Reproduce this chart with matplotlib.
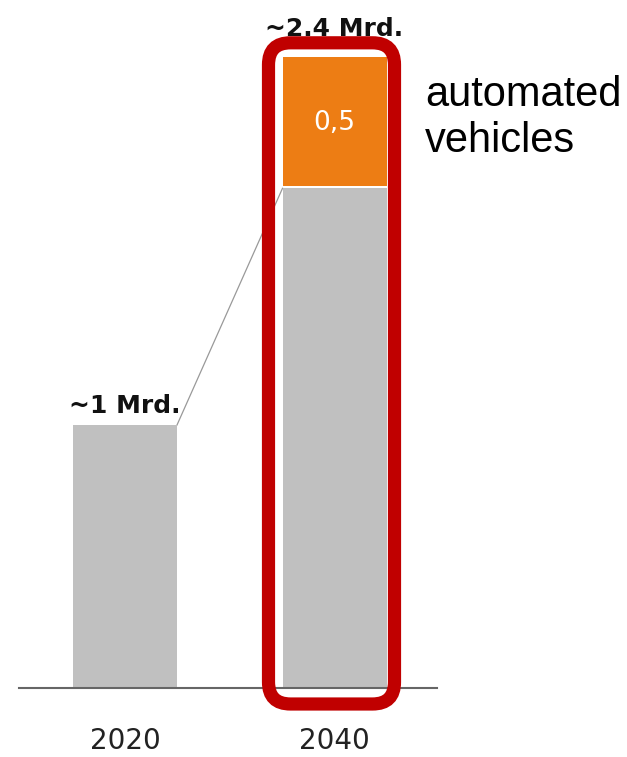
import matplotlib.pyplot as plt
import numpy as np
from matplotlib.patches import FancyBboxPatch

# Daten (Mrd. Fahrzeuge)
jahre = ['2020', '2040']
konventionell = [1.0, 1.9]
automatisiert = [0.0, 0.5]
summen_labels = ['~1 Mrd.', '~2.4 Mrd.']
orange_label = '0,5'

grau = '#c0c0c0'
orange = '#ed7d14'
rot = '#c00000'

fig = plt.figure(figsize=(6.27, 7.57), dpi=100)
ax = fig.add_axes([0, 0, 1, 1])

# Skalen: 209.5 px pro Kategorie, 263 px pro Mrd.
px_x = 209.5
px_y = 263.0
ax.set_xlim(-125 / px_x, (627 - 125) / px_x)
ax.set_ylim(-(757 - 688) / px_y, 688 / px_y)
ax.axis('off')

x = np.arange(len(jahre))
w = 104 / px_x
gap = 2 / px_y

ax.bar(x, konventionell, width=w, color=grau, zorder=2)
ax.bar(x[1], automatisiert[1] - gap, bottom=konventionell[1] + gap, width=w,
       color=orange, zorder=2)

# Summen über den Balken
gesamt = [k + a for k, a in zip(konventionell, automatisiert)]
ax.text(x[0], gesamt[0] + 12 / px_y, summen_labels[0], ha='center', va='baseline',
        fontsize=18, fontweight='bold', color='#111111')
ax.text(x[1], gesamt[1] + 21 / px_y, summen_labels[1], ha='center', va='baseline',
        fontsize=18, fontweight='bold', color='#111111')

# Wert im orangen Segment
ax.text(x[1], konventionell[1] + automatisiert[1] / 2, orange_label, ha='center',
        va='center', fontsize=19, color='white')

# Verbindungslinie
ax.plot([x[0] + w / 2, x[1] - w / 2], [konventionell[0], konventionell[1]],
        color='#999999', lw=0.9, zorder=1)

# Grundlinie
ax.plot([(19 - 125) / px_x, (437 - 125) / px_x], [0, 0], color='#666666', lw=1.5,
        zorder=3)

# Jahreszahlen
for xi, j in zip(x, jahre):
    ax.text(xi, -53 / px_y, j, ha='center', va='center', fontsize=20,
            color='#222222')

# roter Rahmen um 2040
r = 22
links = x[1] - w / 2 - 14 / px_x
rechts = x[1] + w / 2 + 8 / px_x
unten = -16 / px_y
oben = gesamt[1] + 14 / px_y
box = FancyBboxPatch((links + r / px_x, unten + r / px_y),
                     rechts - links - 2 * r / px_x, oben - unten - 2 * r / px_y,
                     boxstyle='round,pad=%f' % (r / px_x),
                     mutation_aspect=px_x / px_y,
                     fill=False, edgecolor=rot, lw=9.5, zorder=4)
ax.add_patch(box)

# Beschriftung
fig.text(425 / 627, 1 - 75 / 757, 'automated\nvehicles', ha='left', va='top',
         fontsize=30, family='Liberation Sans', color='black', linespacing=1.2)

fig.savefig('out.png', dpi=100)
